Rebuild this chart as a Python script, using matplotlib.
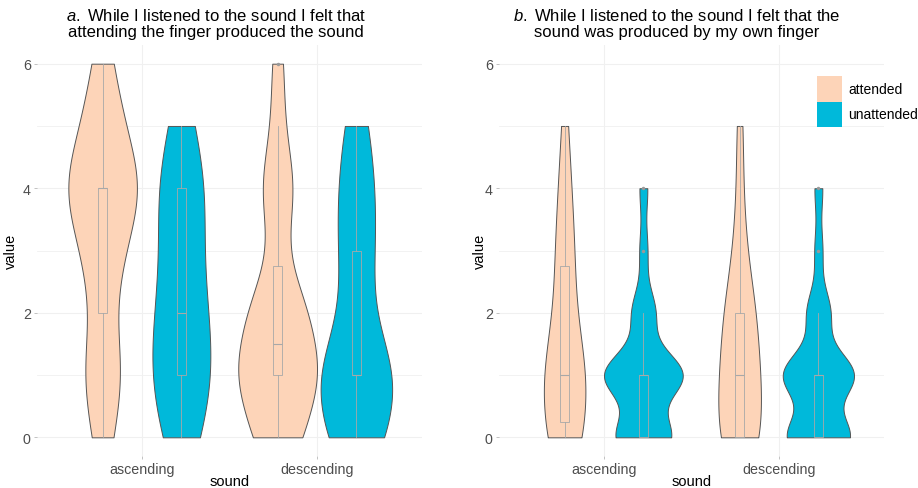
import numpy as np
import matplotlib.pyplot as plt
from matplotlib.patches import Rectangle

plt.rcParams['font.family'] = ['Liberation Sans', 'DejaVu Sans']
plt.rcParams['mathtext.fontset'] = 'custom'
plt.rcParams['mathtext.it'] = 'Liberation Sans:italic'
plt.rcParams['mathtext.rm'] = 'Liberation Sans'

sounds = ["ascending", "descending"]
conditions = ["attended", "unattended"]
levels = [0, 1, 2, 3, 4, 5, 6]

a_attended_asc = [2, 4, 2, 4, 8, 4, 2]
a_unattended_asc = [3, 5, 4, 3, 4, 2, 0]
a_attended_desc = [4, 7, 5, 1, 3, 1, 1]
a_unattended_desc = [5, 7, 2, 3, 3, 2, 0]

b_attended_asc = [6, 7, 3, 3, 2, 1, 0]
b_unattended_asc = [7, 10, 3, 1, 1, 0, 0]
b_attended_desc = [7, 6, 5, 2, 1, 1, 0]
b_unattended_desc = [8, 9, 3, 1, 1, 0, 0]

titles = [
    "$\\it{a.}$ While I listened to the sound I felt that\nattending the finger produced the sound",
    "$\\it{b.}$ While I listened to the sound I felt that the\nsound was produced by my own finger",
]

colors = {"attended": "#FDD4B8", "unattended": "#00B9DA"}
outline = "#555555"
box_grey = "#A8A8A8"
grid_col = "#F0F0F0"


def nrd0(x):
    # same rule as R's bw.nrd0
    hi = np.std(x, ddof=1)
    q75, q25 = np.percentile(x, [75, 25])
    lo = min(hi, (q75 - q25) / 1.34)
    if lo == 0:
        lo = hi
    return 0.9 * lo * len(x) ** -0.2


def density(x, grid):
    bw = nrd0(x)
    z = (grid[:, None] - x[None, :]) / bw
    return np.exp(-0.5 * z ** 2).sum(axis=1) / (len(x) * bw * np.sqrt(2 * np.pi))


def draw_panel(ax, groups):
    # groups: list of (sound index, condition, counts)
    data = []
    for si, cond, counts in groups:
        x = np.repeat(levels, counts).astype(float)
        grid = np.linspace(x.min(), x.max(), 512)
        data.append((si, cond, x, grid, density(x, grid)))
    dmax = max(d.max() for *_, d in data)

    for si, cond, x, grid, d in data:
        pos = si + 1 + (-0.225 if cond == "attended" else 0.225)
        hw = 0.225 * d / dmax
        ax.fill_betweenx(grid, pos - hw, pos + hw, facecolor=colors[cond],
                         edgecolor=outline, linewidth=0.7, zorder=2)
        ax.boxplot([x], positions=[pos], widths=0.05, showcaps=False,
                   patch_artist=True, manage_ticks=False, zorder=3,
                   boxprops=dict(facecolor="none", edgecolor=box_grey, linewidth=0.6),
                   whiskerprops=dict(color=box_grey, linewidth=0.6),
                   medianprops=dict(color=box_grey, linewidth=0.8),
                   flierprops=dict(marker="o", markersize=2.5, markerfacecolor="#999999",
                                   markeredgecolor="none"))

    ax.set_xlim(0.4, 2.6)
    ax.set_ylim(-0.3, 6.3)
    ax.set_xticks([1, 2])
    ax.set_xticklabels(sounds)
    ax.set_yticks([0, 2, 4, 6])
    ax.set_yticks([1, 3, 5], minor=True)
    ax.grid(which="major", color=grid_col, linewidth=0.8, zorder=0)
    ax.grid(which="minor", axis="y", color=grid_col, linewidth=0.6, zorder=0)
    ax.set_axisbelow(True)
    for s in ax.spines.values():
        s.set_visible(False)
    ax.tick_params(which="major", length=2.5, width=0.5, color="#AAAAAA",
                   labelcolor="#4D4D4D", labelsize=10.3, pad=2)
    ax.tick_params(which="minor", length=0)
    ax.set_xlabel("sound", fontsize=10.5, labelpad=-1.5)
    ax.set_ylabel("value", fontsize=10.5)


fig = plt.figure(figsize=(9.18, 4.89), dpi=100)
ax_a = fig.add_axes([37 / 918, 32 / 489, 385 / 918, 411 / 489])
ax_b = fig.add_axes([499 / 918, 32 / 489, 385 / 918, 411 / 489])

draw_panel(ax_a, [(0, "attended", a_attended_asc), (0, "unattended", a_unattended_asc),
                  (1, "attended", a_attended_desc), (1, "unattended", a_unattended_desc)])
draw_panel(ax_b, [(0, "attended", b_attended_asc), (0, "unattended", b_unattended_asc),
                  (1, "attended", b_attended_desc), (1, "unattended", b_unattended_desc)])
ax_a.yaxis.set_label_coords(-0.049, 0.5)
ax_b.yaxis.set_label_coords(-0.031, 0.5)

fig.text(216 / 918, 1 - 8 / 489, titles[0], ha="center", va="top", fontsize=12,
         linespacing=1.05)
fig.text(677 / 918, 1 - 8 / 489, titles[1], ha="center", va="top", fontsize=12,
         linespacing=1.05)

# legend drawn by hand so the two keys touch like in ggplot
key_w, key_h = 25 / 918, 25.5 / 489
for i, c in enumerate(conditions):
    top = 1 - (77 + 25.5 * i) / 489
    fig.patches.append(Rectangle((817 / 918, top - key_h), key_w, key_h,
                                 transform=fig.transFigure, facecolor=colors[c],
                                 edgecolor="none"))
    fig.text(848 / 918, top - key_h / 2, c, va="center", ha="left", fontsize=10)

fig.savefig("out.png", dpi=100)
